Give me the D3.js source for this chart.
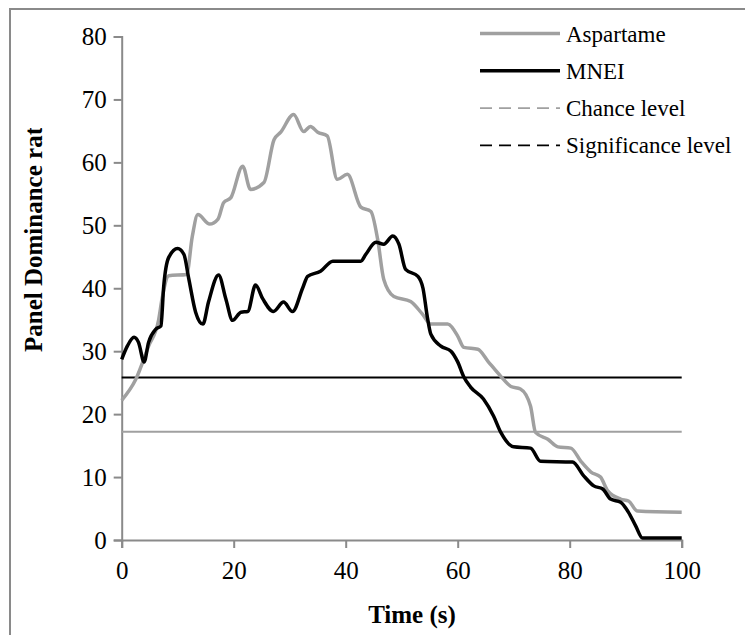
<!DOCTYPE html>
<html>
<head>
<meta charset="utf-8">
<script src="https://cdn.jsdelivr.net/npm/d3@7"></script>
<style>
  body { margin: 0; background: #fff; }
  svg text { font-family: "Liberation Serif", "Times New Roman", serif; }
</style>
</head>
<body>
<div id="chart"></div>
<script>
// datos
var aspT = [0, 2.5, 4.8, 6.6, 7.2, 8.4, 11.6, 12.6, 13.6, 15.7, 17.2, 18.2, 19.5, 21.6, 23, 25.4, 27.2, 28.4, 30.7, 32.5, 33.7, 35, 36.7, 38.5, 40.3, 42.7, 44.5, 45.7, 46.8, 48.6, 51.6, 53.6, 55.2, 58.2, 60, 61.1, 63.6, 65.4, 67.7, 69.5, 71.2, 73, 73.9, 76.1, 77.9, 80.2, 82, 83.8, 85.5, 86.8, 89.1, 90.5, 92.1, 100];
var aspV = [22.2, 25.5, 30.8, 35, 38.3, 42, 42.2, 48.2, 51.7, 50.2, 51, 53.6, 54.4, 59.4, 55.7, 56.8, 63.6, 64.8, 67.6, 64.9, 65.7, 64.8, 64.2, 57.3, 58.1, 52.9, 52.2, 47.8, 41.4, 38.7, 37.9, 36, 34.3, 34.3, 32.4, 30.6, 30.3, 28.4, 26, 24.4, 24, 21.3, 17.1, 16, 14.8, 14.6, 12.5, 10.8, 10, 7.8, 6.5, 6.2, 4.6, 4.4];

var mneT = [0, 1, 2.2, 3, 4, 4.8, 6.1, 7, 7.5, 8.4, 10, 11.1, 12, 13.2, 14.5, 15.5, 17.3, 18.6, 19.8, 21.3, 22.5, 23.9, 25.2, 27.1, 28.9, 30.5, 32.3, 33.2, 35.5, 37.7, 42.7, 43.6, 45.4, 46.8, 48.4, 49.5, 50.7, 52.9, 53.8, 54.6, 55.2, 57, 58.8, 60, 61.1, 62.3, 64.6, 66.4, 67.7, 70, 73, 74.8, 80.5, 82.5, 84.3, 85.9, 87.3, 89.1, 90.5, 91.8, 93, 100];
var mneV = [28.7, 30.8, 32.2, 31.4, 28.3, 31.4, 33.5, 34, 40.3, 44.9, 46.3, 45.4, 41.4, 36.2, 34.3, 37.8, 42.1, 38.3, 34.9, 36.2, 36.3, 40.5, 38.3, 36.3, 37.8, 36.3, 40, 41.9, 42.7, 44.3, 44.3, 45.4, 47.3, 47, 48.3, 47, 43, 41.9, 40, 35.3, 32.7, 30.8, 30, 28.3, 25.9, 24.3, 22.4, 19.7, 17.1, 14.8, 14.6, 12.5, 12.4, 10.2, 8.6, 8.1, 6.5, 6, 4.4, 2.2, 0.3, 0.3];

var chanceLevel = 17.2;
var signifLevel = 25.8;

var xTicks = [0, 20, 40, 60, 80, 100];
var yTicks = [0, 10, 20, 30, 40, 50, 60, 70, 80];

var legendNames = ["Aspartame", "MNEI", "Chance level", "Significance level"];

var grey = "#a0a0a0";
var axisGrey = "#8a8a8a";

var svg = d3.select("#chart").append("svg")
  .attr("width", 745)
  .attr("height", 635);

// marco exterior
svg.append("rect")
  .attr("x", 10).attr("y", 9)
  .attr("width", 760).attr("height", 660)
  .style("fill", "none")
  .style("stroke", axisGrey)
  .style("stroke-width", 2);

var margin = {top: 36.5, left: 121.7};
var width = 560, height = 503.5;

var x = d3.scaleLinear().domain([0, 100]).range([0, width]);
var y = d3.scaleLinear().domain([0, 80]).range([height, 0]);

var chart = svg.append("g")
  .attr("transform", "translate(" + margin.left + "," + margin.top + ")");

// ejes
var xAxis = d3.axisBottom(x).tickValues(xTicks).tickSize(8).tickPadding(13);
var yAxis = d3.axisLeft(y).tickValues(yTicks).tickSize(8).tickPadding(7);

var gx = chart.append("g")
  .attr("transform", "translate(0," + height + ")")
  .call(xAxis);
var gy = chart.append("g").call(yAxis);

[gx, gy].forEach(function(g) {
  g.select(".domain").style("stroke", axisGrey).style("stroke-width", 2);
  g.selectAll(".tick line").style("stroke", axisGrey).style("stroke-width", 2);
  g.selectAll(".tick text")
    .style("font-family", "'Liberation Serif', 'Times New Roman', serif")
    .style("font-size", "25px")
    .style("fill", "#000");
});

// niveles
chart.append("line")
  .attr("x1", x(0)).attr("x2", x(100))
  .attr("y1", y(chanceLevel)).attr("y2", y(chanceLevel))
  .style("stroke", grey).style("stroke-width", 2);
chart.append("line")
  .attr("x1", x(0)).attr("x2", x(100))
  .attr("y1", y(signifLevel)).attr("y2", y(signifLevel))
  .style("stroke", "#000").style("stroke-width", 2);

// series
var line = d3.line()
  .x(function(d) { return x(d[0]); })
  .y(function(d) { return y(d[1]); })
  .curve(d3.curveMonotoneX);

chart.append("path")
  .datum(d3.zip(aspT, aspV))
  .attr("d", line)
  .style("fill", "none").style("stroke", grey).style("stroke-width", 3.5);

chart.append("path")
  .datum(d3.zip(mneT, mneV))
  .attr("d", line)
  .style("fill", "none").style("stroke", "#000").style("stroke-width", 3.5);

// leyenda
var legendStyles = [
  {color: grey, w: 3.5, dash: null},
  {color: "#000", w: 3.5, dash: null},
  {color: grey, w: 1.8, dash: "12,7"},
  {color: "#000", w: 1.8, dash: "12,7"}
];
var legend = svg.append("g");
legendNames.forEach(function(name, i) {
  var ly = 33.5 + i * 37.3;
  var s = legendStyles[i];
  legend.append("line")
    .attr("x1", 480).attr("x2", 560)
    .attr("y1", ly).attr("y2", ly)
    .style("stroke", s.color).style("stroke-width", s.w)
    .style("stroke-dasharray", s.dash);
  legend.append("text")
    .attr("x", 566).attr("y", ly + 8)
    .style("font-size", "23px")
    .text(name);
});

// titulos de ejes
svg.append("text")
  .attr("x", 412).attr("y", 623)
  .style("text-anchor", "middle")
  .style("font-size", "25px")
  .style("font-weight", "bold")
  .text("Time (s)");

svg.append("clipPath").attr("id", "ylabclip")
  .append("rect").attr("x", 0).attr("y", 128).attr("width", 80).attr("height", 300);

svg.append("g").attr("clip-path", "url(#ylabclip)")
  .append("text")
  .attr("transform", "translate(42,352) rotate(-90)")
  .style("font-size", "25px")
  .style("font-weight", "bold")
  .text("Panel Dominance rate");
</script>
</body>
</html>
